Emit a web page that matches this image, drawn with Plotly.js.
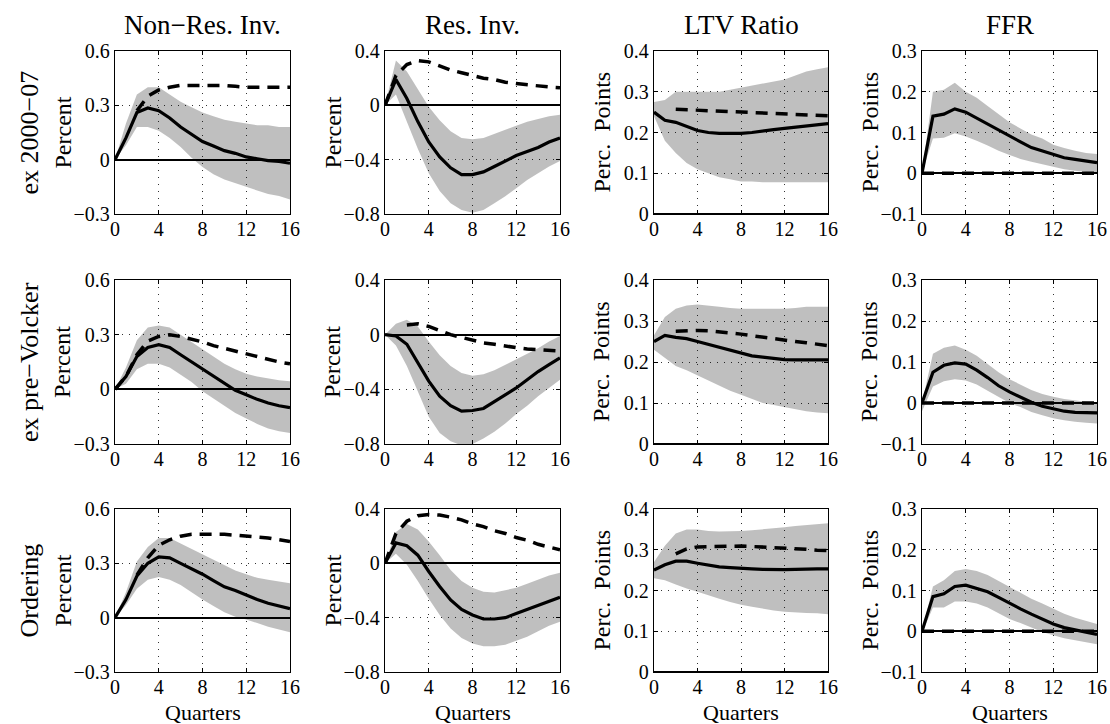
<!DOCTYPE html>
<html>
<head>
<meta charset="utf-8">
<script src="https://cdn.plot.ly/plotly-3.0.1.min.js"></script>
<style>html,body{margin:0;padding:0;background:#fff;}#chart{width:1110px;height:724px;}</style>
</head>
<body>
<div id="chart"></div>
<script>
// ---------- DATA ----------
const quarters = [0,1,2,3,4,5,6,7,8,9,10,11,12,13,14,15,16];

const columnTitles = ["Non\u2212Res. Inv.", "Res. Inv.", "LTV Ratio", "FFR"];
const rowTitles = ["ex 2000\u221207", "ex pre\u2212Volcker", "Ordering"];
const yTitles = ["Percent", "Percent", "Perc.  Points", "Perc.  Points"];
const xTitle = "Quarters";

const nonresTickVals = [-0.3, 0, 0.3, 0.6];
const nonresTickText = ["\u22120.3", "0", "0.3", "0.6"];
const resTickVals = [-0.8, -0.4, 0, 0.4];
const resTickText = ["\u22120.8", "\u22120.4", "0", "0.4"];
const ltvTickVals = [0, 0.1, 0.2, 0.3, 0.4];
const ltvTickText = ["0", "0.1", "0.2", "0.3", "0.4"];
const ffrTickVals = [-0.1, 0, 0.1, 0.2, 0.3];
const ffrTickText = ["\u22120.1", "0", "0.1", "0.2", "0.3"];
const xTickVals = [0, 4, 8, 12, 16];

// Row 1: ex 2000-07
const nonres1_irf = [0,0.12,0.26,0.285,0.27,0.23,0.18,0.14,0.10,0.075,0.05,0.035,0.015,0.005,-0.005,-0.01,-0.02];
const nonres1_hi  = [0,0.20,0.36,0.40,0.40,0.36,0.32,0.29,0.26,0.24,0.22,0.21,0.20,0.19,0.19,0.18,0.18];
const nonres1_lo  = [0,0.08,0.18,0.18,0.16,0.12,0.07,0.01,-0.04,-0.08,-0.11,-0.13,-0.15,-0.17,-0.19,-0.20,-0.22];
const nonres1_alt = [null,null,0.27,0.35,0.385,0.40,0.41,0.41,0.41,0.41,0.41,0.405,0.40,0.40,0.40,0.40,0.40];

const res1_irf = [0,0.19,0.05,-0.12,-0.27,-0.38,-0.46,-0.51,-0.51,-0.49,-0.45,-0.41,-0.37,-0.34,-0.31,-0.27,-0.24];
const res1_hi  = [0,0.33,0.25,0.12,-0.01,-0.11,-0.19,-0.24,-0.25,-0.24,-0.21,-0.18,-0.15,-0.12,-0.10,-0.08,-0.07];
const res1_lo  = [0,0.08,-0.12,-0.32,-0.50,-0.63,-0.72,-0.77,-0.79,-0.77,-0.72,-0.67,-0.61,-0.55,-0.50,-0.45,-0.41];
const res1_alt = [0,0.22,0.30,0.33,0.32,0.29,0.26,0.24,0.22,0.20,0.19,0.17,0.16,0.15,0.14,0.135,0.13];

const ltv1_irf = [0.25,0.23,0.225,0.215,0.205,0.20,0.198,0.198,0.198,0.20,0.204,0.207,0.21,0.213,0.216,0.219,0.222];
const ltv1_hi  = [0.275,0.28,0.30,0.30,0.30,0.30,0.30,0.305,0.31,0.315,0.32,0.325,0.33,0.34,0.35,0.355,0.36];
const ltv1_lo  = [0.24,0.18,0.15,0.125,0.11,0.10,0.09,0.085,0.08,0.08,0.078,0.078,0.078,0.078,0.078,0.078,0.078];
const ltv1_alt = [null,null,0.257,0.256,0.254,0.253,0.251,0.25,0.249,0.248,0.247,0.246,0.245,0.244,0.243,0.242,0.241];

const ffr1_irf = [0,0.14,0.145,0.158,0.15,0.135,0.12,0.105,0.09,0.077,0.063,0.055,0.045,0.038,0.034,0.03,0.026];
const ffr1_hi  = [0,0.20,0.205,0.222,0.20,0.185,0.165,0.145,0.125,0.11,0.095,0.085,0.07,0.062,0.055,0.05,0.047];
const ffr1_lo  = [0,0.085,0.087,0.098,0.09,0.08,0.068,0.055,0.045,0.035,0.028,0.022,0.015,0.01,0.006,0.003,0.002];
const ffr1_alt = [0,0,0,0,0,0,0,0,0,0,0,0,0,0,0,0,0];

// Row 2: ex pre-Volcker
const nonres2_irf = [0,0.07,0.18,0.23,0.245,0.23,0.19,0.15,0.11,0.07,0.03,-0.005,-0.03,-0.055,-0.075,-0.09,-0.10];
const nonres2_hi  = [0,0.12,0.27,0.34,0.35,0.34,0.30,0.26,0.22,0.18,0.14,0.11,0.085,0.07,0.06,0.05,0.045];
const nonres2_lo  = [0,0.03,0.11,0.14,0.14,0.12,0.08,0.04,-0.01,-0.05,-0.09,-0.13,-0.16,-0.19,-0.215,-0.23,-0.24];
const nonres2_alt = [0,0.07,0.19,0.265,0.29,0.30,0.29,0.275,0.26,0.24,0.225,0.21,0.195,0.18,0.165,0.15,0.14];

const res2_irf = [0,-0.01,-0.07,-0.20,-0.34,-0.45,-0.52,-0.56,-0.555,-0.54,-0.49,-0.44,-0.39,-0.33,-0.27,-0.22,-0.17];
const res2_hi  = [0,0.08,0.11,0.06,-0.05,-0.15,-0.23,-0.28,-0.30,-0.29,-0.26,-0.22,-0.18,-0.14,-0.10,-0.05,-0.01];
const res2_lo  = [0,-0.08,-0.23,-0.42,-0.60,-0.72,-0.78,-0.81,-0.80,-0.76,-0.71,-0.65,-0.58,-0.52,-0.45,-0.39,-0.33];
const res2_alt = [null,null,0.07,0.08,0.06,0.03,0.0,-0.02,-0.04,-0.06,-0.07,-0.085,-0.095,-0.105,-0.11,-0.115,-0.12];

const ltv2_irf = [0.25,0.265,0.26,0.257,0.25,0.243,0.235,0.227,0.22,0.215,0.212,0.209,0.206,0.205,0.205,0.205,0.205];
const ltv2_hi  = [0.265,0.31,0.33,0.338,0.34,0.338,0.335,0.332,0.33,0.33,0.33,0.33,0.33,0.332,0.335,0.335,0.335];
const ltv2_lo  = [0.23,0.21,0.19,0.18,0.167,0.155,0.143,0.13,0.12,0.11,0.10,0.095,0.09,0.085,0.08,0.077,0.075];
const ltv2_alt = [null,null,0.275,0.277,0.277,0.276,0.274,0.271,0.268,0.264,0.26,0.257,0.253,0.25,0.247,0.243,0.24];

const ffr2_irf = [0,0.075,0.092,0.098,0.095,0.08,0.062,0.042,0.027,0.014,0.002,-0.008,-0.015,-0.02,-0.023,-0.024,-0.024];
const ffr2_hi  = [0,0.12,0.135,0.14,0.13,0.115,0.095,0.075,0.058,0.045,0.032,0.022,0.015,0.01,0.006,0.003,0.002];
const ffr2_lo  = [-0.02,0.04,0.053,0.058,0.055,0.045,0.03,0.015,0.0,-0.01,-0.022,-0.03,-0.037,-0.042,-0.046,-0.048,-0.05];
const ffr2_alt = [0,0,0,0,0,0,0,0,0,0,0,0,0,0,0,0,0];

// Row 3: Ordering
const nonres3_irf = [0,0.10,0.23,0.30,0.335,0.33,0.30,0.27,0.24,0.205,0.17,0.15,0.125,0.10,0.08,0.065,0.05];
const nonres3_hi  = [0,0.14,0.31,0.39,0.44,0.44,0.41,0.38,0.35,0.32,0.29,0.26,0.24,0.22,0.21,0.20,0.19];
const nonres3_lo  = [0,0.07,0.16,0.21,0.225,0.21,0.18,0.14,0.10,0.065,0.03,0.005,-0.01,-0.03,-0.05,-0.065,-0.08];
const nonres3_alt = [null,null,0.235,0.33,0.40,0.43,0.45,0.46,0.46,0.46,0.46,0.455,0.45,0.445,0.44,0.43,0.42];

const res3_irf = [0,0.15,0.13,0.06,-0.06,-0.17,-0.27,-0.34,-0.38,-0.41,-0.41,-0.40,-0.37,-0.34,-0.31,-0.28,-0.25];
const res3_hi  = [0,0.23,0.29,0.25,0.16,0.06,-0.05,-0.13,-0.18,-0.21,-0.215,-0.20,-0.18,-0.15,-0.12,-0.09,-0.07];
const res3_lo  = [0,0.07,-0.01,-0.13,-0.26,-0.38,-0.48,-0.55,-0.59,-0.61,-0.61,-0.60,-0.57,-0.54,-0.50,-0.46,-0.43];
const res3_alt = [0,0.22,0.31,0.35,0.36,0.355,0.34,0.32,0.29,0.27,0.24,0.22,0.19,0.17,0.14,0.12,0.10];

const ltv3_irf = [0.25,0.263,0.272,0.272,0.267,0.262,0.258,0.256,0.254,0.253,0.252,0.251,0.251,0.252,0.253,0.253,0.253];
const ltv3_hi  = [0.27,0.31,0.34,0.35,0.35,0.346,0.345,0.345,0.346,0.348,0.35,0.352,0.355,0.358,0.36,0.362,0.365];
const ltv3_lo  = [0.23,0.225,0.215,0.205,0.197,0.188,0.18,0.172,0.165,0.16,0.155,0.151,0.148,0.146,0.145,0.144,0.142];
const ltv3_alt = [null,null,0.29,0.302,0.307,0.308,0.309,0.309,0.309,0.308,0.307,0.305,0.304,0.303,0.301,0.299,0.298];

const ffr3_irf = [0,0.085,0.092,0.11,0.113,0.105,0.097,0.083,0.068,0.055,0.042,0.03,0.018,0.009,0.004,-0.002,-0.008];
const ffr3_hi  = [0,0.11,0.125,0.148,0.153,0.148,0.138,0.123,0.108,0.093,0.08,0.068,0.055,0.043,0.033,0.025,0.018];
const ffr3_lo  = [-0.005,0.058,0.058,0.073,0.073,0.068,0.058,0.043,0.03,0.02,0.008,-0.002,-0.01,-0.017,-0.022,-0.027,-0.032];
const ffr3_alt = [0,0,0,0,0,0,0,0,0,0,0,0,0,0,0,0,0];

// ---------- BUILD ----------
const W = 1110, H = 724;
const colPx = [[115,290],[385,560],[654,828],[922,1097]];
const rowPx = [[51,214],[280,444],[509,672]];
const FONT = "Liberation Serif, Times New Roman, serif";

const yAxisSpecs = [
  {range:[-0.3,0.6], vals:nonresTickVals, text:nonresTickText},
  {range:[-0.8,0.4], vals:resTickVals, text:resTickText},
  {range:[0,0.4], vals:ltvTickVals, text:ltvTickText},
  {range:[-0.1,0.3], vals:ffrTickVals, text:ffrTickText}
];

const panelData = [
  [[nonres1_irf,nonres1_hi,nonres1_lo,nonres1_alt],[res1_irf,res1_hi,res1_lo,res1_alt],[ltv1_irf,ltv1_hi,ltv1_lo,ltv1_alt],[ffr1_irf,ffr1_hi,ffr1_lo,ffr1_alt]],
  [[nonres2_irf,nonres2_hi,nonres2_lo,nonres2_alt],[res2_irf,res2_hi,res2_lo,res2_alt],[ltv2_irf,ltv2_hi,ltv2_lo,ltv2_alt],[ffr2_irf,ffr2_hi,ffr2_lo,ffr2_alt]],
  [[nonres3_irf,nonres3_hi,nonres3_lo,nonres3_alt],[res3_irf,res3_hi,res3_lo,res3_alt],[ltv3_irf,ltv3_hi,ltv3_lo,ltv3_alt],[ffr3_irf,ffr3_hi,ffr3_lo,ffr3_alt]]
];

const traces = [];
const layout = {
  width: W, height: H,
  margin: {l:0, r:0, t:0, b:0},
  paper_bgcolor: "#fff", plot_bgcolor: "#fff",
  showlegend: false,
  font: {family: FONT, color: "#000", size: 19},
  annotations: []
};

const px2x = p => p / W;
const px2y = p => 1 - p / H;

for (let r = 0; r < 3; r++) {
  for (let c = 0; c < 4; c++) {
    const i = r * 4 + c + 1;
    const xa = "x" + (i === 1 ? "" : i), ya = "y" + (i === 1 ? "" : i);
    const xk = "xaxis" + (i === 1 ? "" : i), yk = "yaxis" + (i === 1 ? "" : i);
    const [irf, hi, lo, alt] = panelData[r][c];
    const spec = yAxisSpecs[c];

    traces.push({x: quarters, y: lo, xaxis: xa, yaxis: ya, mode: "lines",
      line: {width: 0, color: "rgba(0,0,0,0)"}, hoverinfo: "skip"});
    traces.push({x: quarters, y: hi, xaxis: xa, yaxis: ya, mode: "lines", fill: "tonexty",
      fillcolor: "rgba(0,0,0,0.25)", line: {width: 0, color: "rgba(0,0,0,0)"}, hoverinfo: "skip"});
    traces.push({x: quarters, y: alt, xaxis: xa, yaxis: ya, mode: "lines",
      line: {width: 3.5, color: "#000", dash: "12px,8px"}, connectgaps: false});
    traces.push({x: quarters, y: irf, xaxis: xa, yaxis: ya, mode: "lines",
      line: {width: 3.2, color: "#000"}});

    layout[xk] = {
      domain: [px2x(colPx[c][0]), px2x(colPx[c][1])],
      anchor: ya, range: [0, 16], tickvals: xTickVals,
      ticks: "inside", ticklen: 4, tickcolor: "#000",
      showline: true, linecolor: "#000", linewidth: 1.2, mirror: "ticks",
      showgrid: true, gridcolor: "#333", gridwidth: 1, griddash: "1px,6px",
      zeroline: false, tickfont: {family: FONT, size: 20, color: "#000"},
      ticklabelstandoff: -3,
      fixedrange: true
    };
    layout[yk] = {
      domain: [px2y(rowPx[r][1]), px2y(rowPx[r][0])],
      anchor: xa, range: spec.range, tickvals: spec.vals, ticktext: spec.text,
      ticks: "inside", ticklen: 4, tickcolor: "#000",
      showline: true, linecolor: "#000", linewidth: 1.2, mirror: "ticks",
      showgrid: true, gridcolor: "#333", gridwidth: 1, griddash: "1px,6px",
      zeroline: true, zerolinecolor: "#000", zerolinewidth: 2,
      tickfont: {family: FONT, size: 20, color: "#000"},
      fixedrange: true
    };

    layout.annotations.push({
      text: yTitles[c], xref: "paper", yref: "paper",
      x: px2x(colPx[c][0] - 53), y: px2y((rowPx[r][0] + rowPx[r][1]) / 2),
      textangle: -90, showarrow: false, xanchor: "center", yanchor: "middle",
      font: {family: FONT, size: 24, color: "#000"}
    });
    if (r === 2) {
      layout.annotations.push({
        text: xTitle, xref: "paper", yref: "paper",
        x: px2x((colPx[c][0] + colPx[c][1]) / 2), y: px2y(726),
        showarrow: false, xanchor: "center", yanchor: "bottom", borderpad: 0,
        font: {family: FONT, size: 22, color: "#000"}
      });
    }
  }
}

columnTitles.forEach((t, c) => {
  layout.annotations.push({
    text: t, xref: "paper", yref: "paper",
    x: px2x((colPx[c][0] + colPx[c][1]) / 2), y: px2y(25),
    showarrow: false, xanchor: "center", yanchor: "middle",
    font: {family: FONT, size: 27, color: "#000"}
  });
});
rowTitles.forEach((t, r) => {
  layout.annotations.push({
    text: t, xref: "paper", yref: "paper",
    x: px2x(29), y: px2y((rowPx[r][0] + rowPx[r][1]) / 2),
    textangle: -90, showarrow: false, xanchor: "center", yanchor: "middle",
    font: {family: FONT, size: 26, color: "#000"}
  });
});

Plotly.newPlot("chart", traces, layout, {staticPlot: true, displayModeBar: false});
</script>
</body>
</html>
